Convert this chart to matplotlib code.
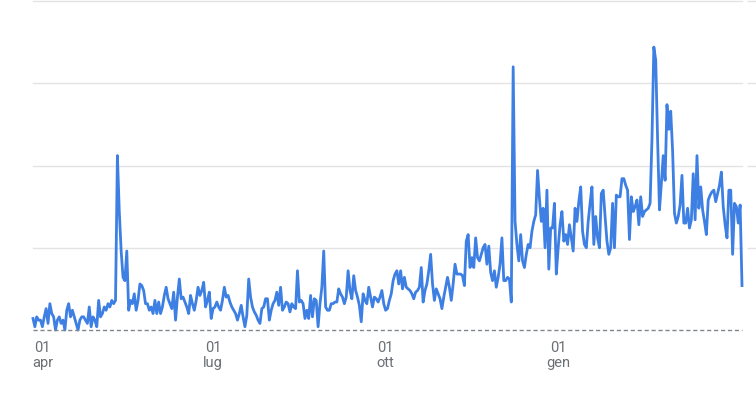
import matplotlib
matplotlib.use('Agg')
import matplotlib.pyplot as plt
import pandas as pd

plt.rcParams['font.family'] = ['Roboto', 'DejaVu Sans']

# daily interest values, 27 Mar -> 9 Apr
start_date = '2019-03-27'
values = [
    # late Mar - late May
    3.5, 1, 4, 3, 3, 1, 4, 6.5, 2, 8, 5, 4, 0, 3, 4, 2, 3, 0, 6, 8,
    4, 6, 4, 2, 0, 3, 4, 4, 3, 2, 7, 1, 4, 3, 1, 9, 4, 5, 7, 6,
    8, 7, 9, 8, 9, 53, 36, 24, 16, 15, 24, 6, 9, 8, 11, 6, 9, 14, 13.5, 12,
    8,
    # late May - end Jul
    8, 6, 7, 5, 9, 5, 8.5, 5, 7, 10.5, 13, 9.5, 8, 6.5, 11.5, 3, 10, 15.5, 9.5, 10,
    8.5, 7, 5, 10.5, 8, 6, 9, 13, 10.5, 12, 14.5, 7, 9, 11.5, 3.5, 6.5, 7, 8.5, 7, 6,
    9, 13, 10, 10.5, 8.5, 7, 6, 5, 3, 5, 7.5, 4, 1, 4.5, 15.5, 10, 7, 5.5, 4.5, 3,
    2, 6.5, 7, 9.5,
    # Aug - Sep
    9.5, 3, 6, 8, 9, 11.5, 7.5, 13, 6, 7, 8.5, 8, 5.5, 8, 7, 6.5, 18, 8.5, 9, 8,
    3.5, 6, 3.5, 10.5, 4, 9.5, 9, 1, 8, 13, 24, 7, 6, 6, 8, 8, 8.5, 8.5, 12.5, 11,
    10, 8, 10, 18, 12, 9.5, 16.5, 12, 10, 7.5, 2.5, 11, 9, 8, 13, 10, 7, 10, 9.5, 8.5,
    10, 12, 8, 6,
    # Oct - Nov
    6.5, 9, 11, 15, 17, 18, 14, 18, 12.5, 16, 13, 12.5, 12, 11, 9.5, 11.5, 12, 13, 19, 8.5,
    12, 14, 18, 23, 14, 9, 12.5, 11, 9.5, 6.5, 10, 13, 16, 13, 9, 14, 20, 17, 17, 17,
    16.5, 13.5, 27, 29, 19, 22, 19, 28, 22, 21, 23, 25, 26, 20, 25.5, 17.5, 15, 18, 13, 16,
    20, 28,
    # Dec - Jan
    15, 15, 16, 15.5, 8.5, 80, 33, 26, 21, 29, 21, 19, 23, 26, 25, 30, 33, 35, 48.5, 40,
    33, 37, 25, 42.5, 18.5, 31, 31, 38.5, 17, 25, 32, 36, 27, 29, 26, 32, 28, 24, 37, 33,
    39, 43.5, 30, 26, 25, 33, 38.5, 43.5, 26, 34.5, 28, 25, 41.5, 42.5, 34.5, 27, 23, 25, 38.5, 25,
    41, 40.5, 40.5, 46,
    # Feb - early Apr
    46, 44, 42.5, 27.5, 40.5, 36, 37.5, 39.5, 32, 40.5, 34.5, 36, 36.5, 37, 38.5, 58, 86, 82, 58, 36.5,
    44.5, 53, 45.5, 68.5, 61, 66.5, 54.5, 35.5, 32.5, 34.5, 38, 47, 32.5, 32.5, 37, 31, 33.5, 47.5, 33.5, 53,
    37, 43.5, 36.5, 33, 29, 39.5, 41, 42, 42.5, 39, 41.5, 44, 48, 37.5, 32, 28, 42.5, 42.5, 23, 38.5,
    37.5, 32.5, 38, 13.5,
]
tick_dates = ['2019-04-01', '2019-07-01', '2019-10-01', '2020-01-01']
tick_labels = ['01\napr', '01\nlug', '01\nott', '01\ngen']
grid_values = [25, 50, 75, 100]

dates = pd.date_range(start_date, periods=len(values), freq='D')

fig = plt.figure(figsize=(7.56, 3.98), dpi=100)
ax = fig.add_axes([33 / 756, 68 / 398, 709 / 756, 329 / 398])

for g in grid_values:
    ax.axhline(g, color='#e3e3e3', lw=1, zorder=1, clip_on=False)
    # short grid stub beyond the plotting area, as in the original
    ax.hlines(g, dates[-1] + pd.Timedelta(days=2.5), dates[-1] + pd.Timedelta(days=7.5),
              color='#e3e3e3', lw=1, clip_on=False, zorder=1)

# dashed zero baseline
ax.hlines(0, dates[0], dates[-1], color='#80868b', lw=1, linestyles=(0, (3, 2)),
          clip_on=False, zorder=4)

ax.plot(dates, values, color='#3d7fe3', lw=2, solid_joinstyle='round', clip_on=False, zorder=3)

ax.set_xlim(dates[0], dates[-1])
ax.set_ylim(0, 100)
ax.set_yticks([])
ax.set_xticks(pd.to_datetime(tick_dates))
ax.set_xticklabels(tick_labels, color='#6b6f73', fontsize=10.5, linespacing=1.1)
ax.tick_params(axis='x', length=0, pad=8)

for s in ax.spines.values():
    s.set_visible(False)

fig.savefig('out.png', dpi=100)
